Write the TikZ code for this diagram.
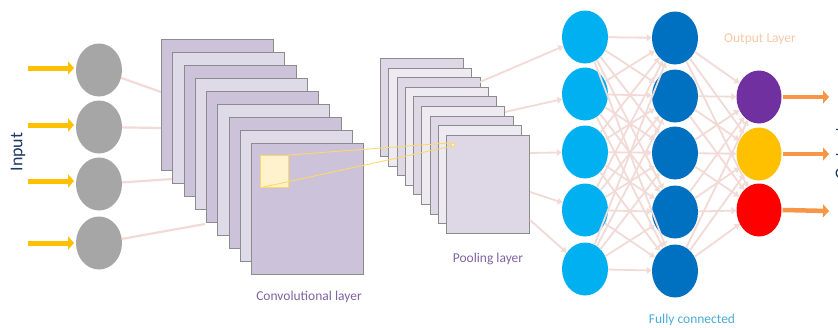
\documentclass[tikz,border=0pt]{standalone}
\usepackage{fontspec}
\setmainfont{Carlito}
\usetikzlibrary{shapes.geometric,arrows.meta}
\definecolor{inputgray}{RGB}{166,166,166}
\definecolor{arrowyellow}{RGB}{255,192,0}
\definecolor{linkpink}{RGB}{242,218,214}
\definecolor{convdark}{RGB}{204,194,218}
\definecolor{convlight}{RGB}{223,218,231}
\definecolor{pooldark}{RGB}{221,215,230}
\definecolor{poollight}{RGB}{237,234,242}
\definecolor{rectedge}{RGB}{140,140,140}
\definecolor{fcone}{RGB}{0,176,240}
\definecolor{fctwo}{RGB}{0,112,192}
\definecolor{outpurple}{RGB}{112,48,160}
\definecolor{outyellow}{RGB}{255,192,0}
\definecolor{outred}{RGB}{255,0,0}
\definecolor{outorange}{RGB}{247,150,70}
\definecolor{navytext}{RGB}{31,56,100}
\definecolor{purpletext}{RGB}{128,100,162}
\definecolor{orangetext}{RGB}{248,200,168}
\definecolor{bluetext}{RGB}{75,172,214}
\definecolor{focusfill}{RGB}{255,242,204}
\definecolor{focusline}{RGB}{255,217,102}
\tikzset{
  neuron/.style={ellipse, minimum width=46pt, minimum height=53pt, inner sep=0pt, draw=none},
  convsheet/.style={rectangle, draw=rectedge, line width=0.9pt, minimum width=112pt, minimum height=131pt, anchor=north west, inner sep=0pt},
  poolsheet/.style={rectangle, draw=rectedge, line width=0.9pt, minimum width=83pt, minimum height=98pt, anchor=north west, inner sep=0pt},
  link/.style={draw=linkpink, line width=2.2pt},
  linkarrow/.style={draw=linkpink, line width=1.8pt, -{Triangle[length=5pt,width=6.5pt]}},
  inarrow/.style={draw=arrowyellow, line width=5pt, -{Triangle[length=6pt,width=13pt]}},
  outarrow/.style={draw=outorange, line width=4.5pt, -{Triangle[length=6pt,width=13pt]}},
  focus/.style={draw=focusline, line width=0.9pt},
  lbl/.style={font=\fontsize{13.5}{16}\selectfont, inner sep=0pt},
  sidelbl/.style={font=\fontsize{18}{21}\selectfont, inner sep=0pt, text=navytext, rotate=90},
}
\begin{document}
\begin{tikzpicture}[x=1pt,y=-1pt]
\useasboundingbox (0,0) rectangle (838,327);
\clip (0,0) rectangle (838,327);
\fill[white] (0,0) rectangle (838,327);

% input neurons
\foreach \i/\y in {1/70,2/127,3/184,4/243}{
  \node[neuron, fill=inputgray] (in\i) at (99,\y) {};
}
% link targets on conv sheets
\coordinate (t1) at (161,92);
\coordinate (t2) at (161,128);
\coordinate (t3) at (172,179);
\coordinate (t4) at (205,224);
\foreach \i in {1,2,3,4}{ \draw[link] (in\i) -- (t\i); }
% input arrows
\foreach \i/\y in {1/68,2/125,3/181,4/243}{
  \coordinate (ia\i) at (28,\y);
  \draw[inarrow] (ia\i) -- (74,\y);
}

% conv sheets
\foreach \i in {0,...,8}{
  \pgfmathsetmacro{\xx}{161+11.25*\i}
  \pgfmathsetmacro{\yy}{39+13*\i}
  \pgfmathparse{mod(\i,2)==0 ? "convdark" : "convlight"}
  \edef\fillc{\pgfmathresult}
  \node[convsheet, fill=\fillc] (cv\i) at (\xx,\yy) {};
}
% pooling sheets
\foreach \i in {0,...,8}{
  \pgfmathsetmacro{\xx}{380+8.25*\i}
  \pgfmathsetmacro{\yy}{58+9.6*\i}
  \pgfmathparse{mod(\i,2)==0 ? "pooldark" : "poollight"}
  \edef\fillc{\pgfmathresult}
  \node[poolsheet, fill=\fillc] (pl\i) at (\xx,\yy) {};
}

% focus window
\node[rectangle, fill=focusfill, draw=focusline, line width=0.8pt, minimum width=28pt, minimum height=32pt, inner sep=0pt, anchor=north west] (win) at (260,155) {};
\node[rectangle, fill=focusfill, draw=focusline, line width=0.5pt, minimum size=3pt, inner sep=0pt] (dot) at (453,144.5) {};
\draw[focus] (win.north east) -- (dot.north west);
\draw[focus] (win.south west) -- (dot.south west);

% fully connected layers
\foreach \i/\y in {1/37,2/94,3/152,4/210,5/269}{
  \node[neuron, fill=fcone] (fa\i) at (585,\y) {};
}
\foreach \i/\y in {1/38,2/96,3/153,4/212,5/271}{
  \node[neuron, fill=fctwo] (fb\i) at (675,\y) {};
}
\node[neuron, fill=outpurple, minimum width=45pt] (o1) at (759,97) {};
\node[neuron, fill=outyellow, minimum width=45pt] (o2) at (759,154) {};
\node[neuron, fill=outred, minimum width=45pt] (o3) at (759,210) {};

% pooling -> fc1
\coordinate (p1) at (480,82);
\coordinate (p2) at (505,112);
\coordinate (p3) at (530,153);
\coordinate (p4) at (530,192);
\coordinate (p5) at (530,220);
\foreach \i in {1,...,5}{ \draw[linkarrow] (p\i) -- (fa\i); }

% fc1 -> fc2
\foreach \i in {1,...,5}{
  \foreach \j in {1,...,5}{
    \draw[linkarrow] (fa\i) -- (fb\j);
  }
}
% fc2 -> output
\foreach \i in {1,...,5}{
  \foreach \j in {1,2,3}{
    \draw[linkarrow] (fb\i) -- (o\j);
  }
}
% output arrows
\coordinate (oe1) at (829,97);
\coordinate (oe2) at (829,154);
\coordinate (oe3) at (829,211);
\foreach \i in {1,2,3}{ \draw[outarrow] (o\i.east) ++(1,0) -- (oe\i); }

% labels
\node[sidelbl] (inlbl) at (18,152) {Input};
\node[sidelbl] (outlbl) at (843,153) {Output};
\node[lbl, text=purpletext] (convlbl) at (309,297) {Convolutional layer};
\node[lbl, text=purpletext] (poollbl) at (488,259) {Pooling layer};
\node[lbl, text=orangetext] (outlayer) at (760,39) {Output Layer};
\node[lbl, text=bluetext] (fclbl) at (692,320) {Fully connected};
\end{tikzpicture}
\end{document}
